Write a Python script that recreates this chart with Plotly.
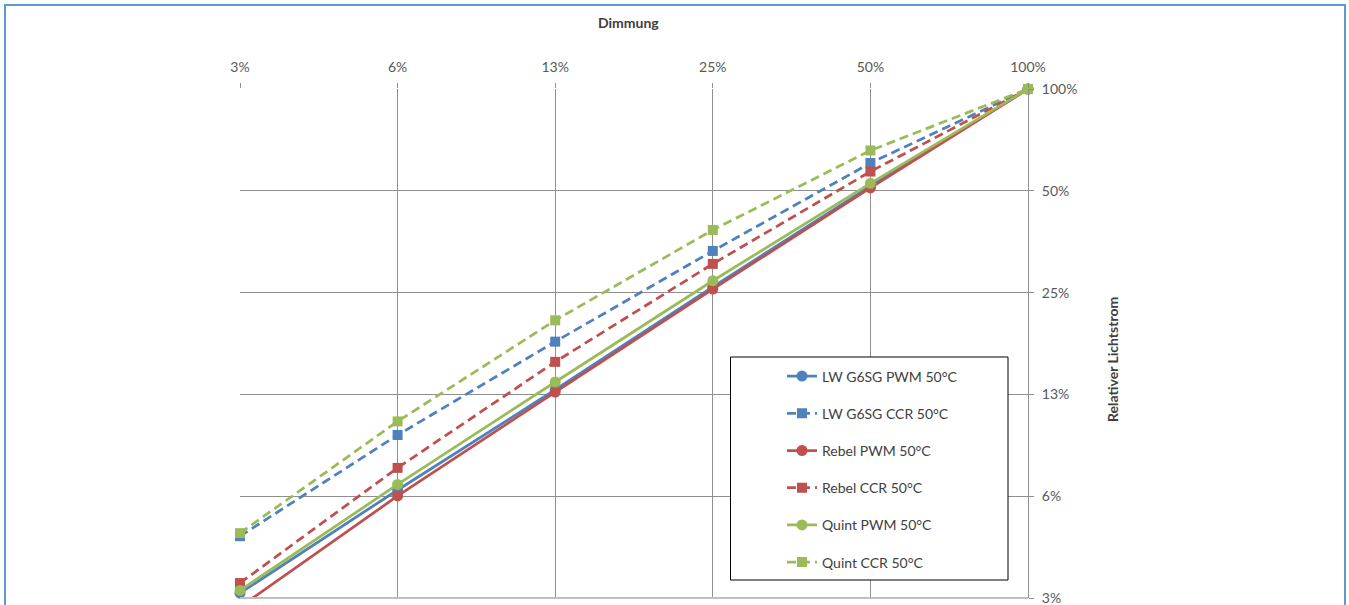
import plotly.graph_objects as go

# Dimming level (x) and relative luminous flux (y), both in percent
dimming = [3.125, 6.25, 12.5, 25, 50, 100]
tick_vals = [3.125, 6.25, 12.5, 25, 50, 100]
tick_text = ["3%", "6%", "13%", "25%", "50%", "100%"]

lw_pwm = [3.23, 6.52, 12.9, 26.0, 51.6, 100]
lw_ccr = [4.76, 9.48, 17.9, 33.2, 60.4, 100]
rebel_pwm = [2.94, 6.26, 12.7, 25.6, 51.0, 100]
rebel_ccr = [3.46, 7.58, 15.6, 30.4, 57.0, 100]
quint_pwm = [3.29, 6.77, 13.6, 27.1, 52.6, 100]
quint_ccr = [4.86, 10.4, 20.7, 38.3, 65.8, 100]

BLUE = "#4F81BD"
RED = "#C0504D"
GREEN = "#9BBB59"
FONT = "Lato, 'Open Sans', sans-serif"

series = [
    ("LW G6SG PWM 50°C", lw_pwm, BLUE, "solid", "circle"),
    ("LW G6SG CCR 50°C", lw_ccr, BLUE, "9px,5px", "square"),
    ("Rebel PWM 50°C", rebel_pwm, RED, "solid", "circle"),
    ("Rebel CCR 50°C", rebel_ccr, RED, "9px,5px", "square"),
    ("Quint PWM 50°C", quint_pwm, GREEN, "solid", "circle"),
    ("Quint CCR 50°C", quint_ccr, GREEN, "9px,5px", "square"),
]

fig = go.Figure()
for i, (name, vals, color, dash, symbol) in enumerate(series):
    fig.add_trace(go.Scatter(
        x=dimming, y=vals, name=name, mode="lines+markers",
        legendgroup=f"g{i}",
        line=dict(color=color, width=2.75, dash=dash),
        marker=dict(color=color, symbol=symbol, size=11 if symbol == "circle" else 10),
        cliponaxis=False,
    ))

W, H = 1349, 605
L, R, T, B = 240, 1028, 89, 598


def px(x):
    return (x - L) / (R - L)


def py(y):
    return (B - y) / (B - T)


grid = "#8f8f8f"
fig.update_layout(
    width=W, height=H,
    margin=dict(l=L, r=W - R, t=T, b=H - B, autoexpand=False),
    paper_bgcolor="white", plot_bgcolor="white",
    font=dict(family=FONT, size=14, color="#595959"),
    showlegend=True,
    legend=dict(
        x=px(782), y=py(360.5), xanchor="left", yanchor="top",
        bgcolor="rgba(0,0,0,0)", borderwidth=0,
        tracegroupgap=16,
        font=dict(family=FONT, size=14, color="#404040"),
    ),
    xaxis=dict(
        type="log", side="top",
        range=[0.49484, 2.0],
        tickvals=tick_vals, ticktext=tick_text,
        showgrid=True, gridcolor=grid, gridwidth=1,
        ticks="outside", ticklen=5, tickcolor=grid,
        ticklabelstandoff=5, ticklabeloverflow="allow",
        automargin=False,
        showline=False, zeroline=False,
    ),
    yaxis=dict(
        type="log", side="right",
        range=[0.49484, 2.0],
        tickvals=tick_vals, ticktext=tick_text,
        showgrid=True, gridcolor=grid, gridwidth=1,
        ticks="outside", ticklen=5, tickcolor=grid,
        ticklabelstandoff=5, ticklabeloverflow="allow",
        automargin=False,
        showline=True, linecolor=grid, linewidth=1,
        zeroline=False,
    ),
    annotations=[
        dict(text="<b>Dimmung</b>", xref="paper", yref="paper",
             x=px(628), y=py(22), xanchor="center", yanchor="middle",
             showarrow=False, font=dict(family=FONT, size=14, color="#404040")),
        dict(text="<b>Relativer Lichtstrom</b>", xref="paper", yref="paper",
             x=px(1113), y=py(360), xanchor="center", yanchor="middle",
             textangle=-90, showarrow=False,
             font=dict(family=FONT, size=14, color="#404040")),
    ],
    shapes=[
        # bottom axis line
        dict(type="line", xref="paper", yref="paper", x0=0, x1=1, y0=0, y1=0,
             line=dict(color="#bfbfbf", width=2), layer="above"),
        # legend frame
        dict(type="rect", xref="paper", yref="paper",
             x0=px(730.5), x1=px(1008), y0=py(357), y1=py(580),
             line=dict(color="black", width=1), fillcolor="white", layer="above"),
        # outer chart border
        dict(type="rect", xref="paper", yref="paper",
             x0=px(5), x1=px(1345), y0=py(640), y1=py(5),
             line=dict(color="#5B9BD5", width=2), fillcolor="rgba(0,0,0,0)",
             layer="above"),
    ],
)

fig.write_html("out.html")
